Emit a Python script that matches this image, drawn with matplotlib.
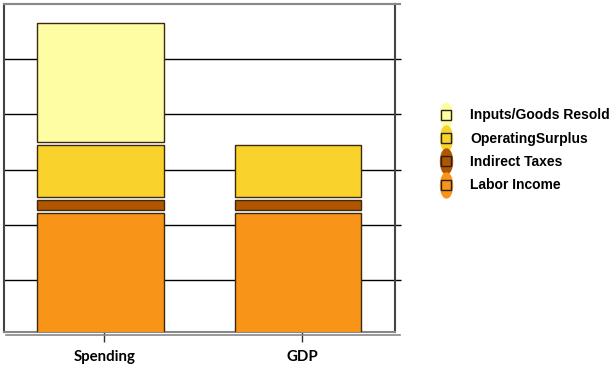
import numpy as np
import matplotlib
matplotlib.use("Agg")
import matplotlib.pyplot as plt
from matplotlib.lines import Line2D
from matplotlib.path import Path

# Data (gridline spacing = 10)
categories = ["Spending", "GDP"]
labor_income = [22.35, 22.35]
indirect_taxes = [2.45, 2.45]
operating_surplus = [10.0, 10.0]
inputs_resold = [22.1, 0.0]

series_names = ["Labor Income", "Indirect Taxes", "OperatingSurplus", "Inputs/Goods Resold"]
series_values = [labor_income, indirect_taxes, operating_surplus, inputs_resold]
series_colors = ["#F89418", "#B25500", "#F9D22B", "#FFFDA3"]

W, H = 611, 365
fig = plt.figure(figsize=(W / 100, H / 100), dpi=100)

# axes box in pixels: x 4..395, y 4..331.5
ax = fig.add_axes([4 / W, 1 - 331.5 / H, (395 - 4) / W, (331.5 - 4) / H])

x = np.arange(len(categories))
bar_w = 0.64
gap = 0.55  # small white gap between stacked segments
edge = "#3b2a10"

cum = np.zeros(len(categories))
for i, (name, vals, col) in enumerate(zip(series_names, series_values, series_colors)):
    vals = np.array(vals)
    for j in range(len(categories)):
        if vals[j] <= 0:
            continue
        lo = cum[j] + (gap / 2 if i > 0 else 0)
        hi = cum[j] + vals[j] - gap / 2
        ax.bar(x[j], hi - lo, bottom=lo, width=bar_w, color=col,
               edgecolor=edge, linewidth=1.0, zorder=3)
    cum += vals

ax.set_xlim(-0.487, 1.49)
ax.set_ylim(0.7, 60)

# gridlines
ax.set_yticks([10, 20, 30, 40, 50])
ax.yaxis.grid(True, color="black", linewidth=1.0, zorder=0)
ax.set_axisbelow(True)
ax.tick_params(axis="y", left=False, labelleft=False, right=True,
               direction="out", length=4, width=1.0, color="black")

ax.set_xticks(x + 0.02)
ax.set_xticklabels(categories, fontfamily="Lato", fontweight="bold", fontsize=10.8)
ax.tick_params(axis="x", direction="out", length=7, width=1.0, color="#333333", pad=6)

for s in ["left", "right"]:
    ax.spines[s].set_color("#444444")
    ax.spines[s].set_linewidth(1.5)
ax.spines["top"].set_color("#888888")
ax.spines["top"].set_linewidth(1.5)
ax.spines["bottom"].set_color("#888888")
ax.spines["bottom"].set_linewidth(1.5)

# extended top / bottom rules like the original
fig.add_artist(Line2D([4 / W, 400 / W], [1 - 4 / H, 1 - 4 / H], color="#888888", linewidth=1.5))
fig.add_artist(Line2D([6 / W, 400 / W], [1 - 334.5 / H, 1 - 334.5 / H], color="#888888", linewidth=1.2))

# legend with oval + square markers
t = np.linspace(0, 2 * np.pi, 60)
oval = Path(np.column_stack([0.24 * np.cos(t), 0.5 * np.sin(t)]), closed=True)

handles = []
labels = []
for name, col in zip(series_names[::-1], series_colors[::-1]):
    h1 = Line2D([], [], linestyle="None", marker=oval, markersize=18,
                markerfacecolor=col, markeredgecolor=col)
    h2 = Line2D([], [], linestyle="None", marker="s", markersize=7.8,
                markerfacecolor=col, markeredgecolor="#222222", markeredgewidth=1.0)
    handles.append((h1, h2))
    labels.append(name)

leg = fig.legend(handles, labels, loc="upper left", bbox_to_anchor=(436 / W, 1 - 108.5 / H),
                 frameon=False, numpoints=1, handlelength=1.5, handletextpad=0.95,
                 labelspacing=0.67, borderpad=0, borderaxespad=0,
                 prop={"family": "Liberation Sans", "weight": "bold", "size": 10})

fig.savefig("out.png", dpi=100)
